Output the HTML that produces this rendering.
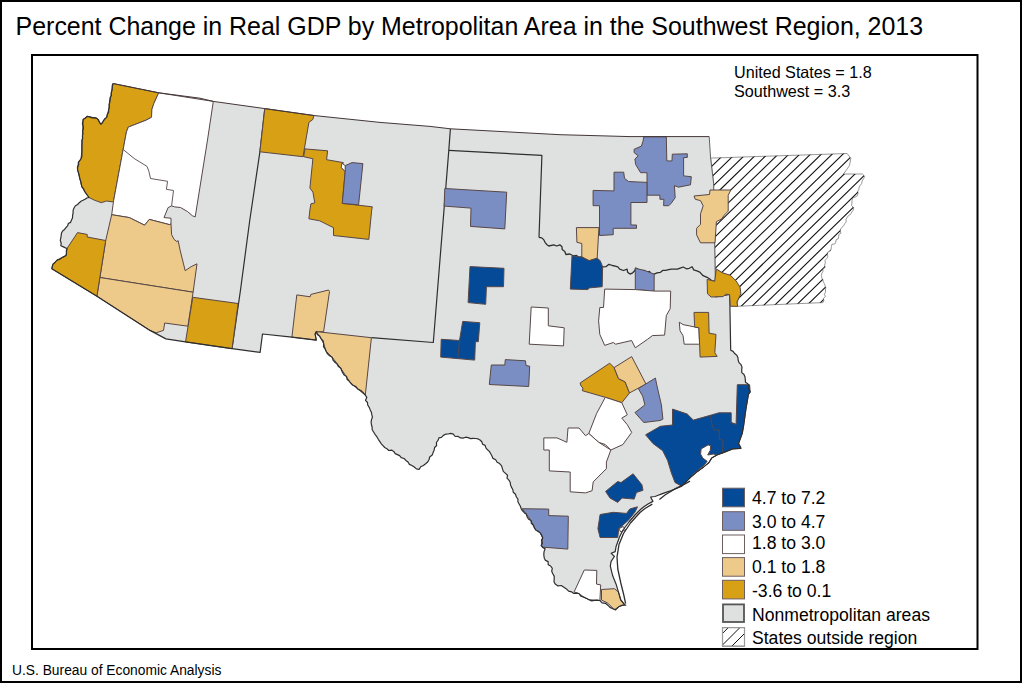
<!DOCTYPE html>
<html><head><meta charset="utf-8"><style>
html,body{margin:0;padding:0;background:#fff;}
body{width:1022px;height:683px;overflow:hidden;position:relative;}
svg{position:absolute;left:0;top:0;}
text{font-family:"Liberation Sans",sans-serif;fill:#000;}
</style></head><body>
<svg width="1022" height="683" viewBox="0 0 1022 683">
<rect x="1" y="1" width="1020" height="681" fill="#fff" stroke="#000" stroke-width="2"/>
<text transform="translate(15.6,35) scale(1,1.046)" font-size="24.95">Percent Change in Real GDP by Metropolitan Area in the Southwest Region, 2013</text>
<rect x="32" y="55" width="945.5" height="594" fill="#fff" stroke="#000" stroke-width="2"/>
<text transform="translate(734,77.6) scale(1,1.02)" font-size="16.15">United States = 1.8</text>
<text transform="translate(734,96.6) scale(1,1.02)" font-size="16.15">Southwest = 3.3</text>
<text x="12" y="675" font-size="13.8">U.S. Bureau of Economic Analysis</text>
<defs><clipPath id="arc"><polygon points="710.6,158.1 847.1,153.5 850.8,158.3 849.5,165.5 843.5,174.0 862.4,174.0 864.8,176.4 863.5,178.7 862.1,181.0 861.6,183.7 860.2,185.4 859.2,187.2 858.9,189.3 857.8,191.0 858.0,193.3 857.4,195.8 855.1,197.0 852.7,198.1 852.0,200.6 851.9,203.1 851.6,205.6 853.8,207.8 853.2,210.3 851.7,212.1 850.6,214.3 848.5,215.6 847.1,217.5 846.0,219.4 846.2,221.9 844.8,223.6 843.7,225.5 842.3,227.2 840.6,228.8 840.3,230.8 840.9,233.2 838.8,234.6 838.7,236.8 838.2,238.9 836.0,239.9 835.8,242.2 834.8,244.0 831.9,244.3 831.4,246.5 831.2,248.8 830.4,250.8 827.9,252.1 827.4,254.2 827.9,256.8 826.6,258.6 825.0,260.5 825.4,262.9 824.6,264.9 825.2,267.3 822.9,269.1 823.0,271.4 821.8,273.3 821.4,275.5 821.8,277.9 822.9,279.8 823.3,281.8 824.4,283.7 825.0,285.7 825.8,287.7 825.4,290.0 825.5,292.2 824.4,294.2 825.4,296.5 823.4,298.3 823.8,300.6 823.0,302.6 736.8,306.3 738.0,300.1 740.4,292.8 736.8,284.2 730.7,276.9 723.3,273.2 717.2,269.6 715.3,279.0 713.6,183.2"/></clipPath><clipPath id="lgc"><rect x="722.5" y="627.6" width="22" height="18.6"/></clipPath></defs><polygon points="710.6,158.1 847.1,153.5 850.8,158.3 849.5,165.5 843.5,174.0 862.4,174.0 864.8,176.4 863.5,178.7 862.1,181.0 861.6,183.7 860.2,185.4 859.2,187.2 858.9,189.3 857.8,191.0 858.0,193.3 857.4,195.8 855.1,197.0 852.7,198.1 852.0,200.6 851.9,203.1 851.6,205.6 853.8,207.8 853.2,210.3 851.7,212.1 850.6,214.3 848.5,215.6 847.1,217.5 846.0,219.4 846.2,221.9 844.8,223.6 843.7,225.5 842.3,227.2 840.6,228.8 840.3,230.8 840.9,233.2 838.8,234.6 838.7,236.8 838.2,238.9 836.0,239.9 835.8,242.2 834.8,244.0 831.9,244.3 831.4,246.5 831.2,248.8 830.4,250.8 827.9,252.1 827.4,254.2 827.9,256.8 826.6,258.6 825.0,260.5 825.4,262.9 824.6,264.9 825.2,267.3 822.9,269.1 823.0,271.4 821.8,273.3 821.4,275.5 821.8,277.9 822.9,279.8 823.3,281.8 824.4,283.7 825.0,285.7 825.8,287.7 825.4,290.0 825.5,292.2 824.4,294.2 825.4,296.5 823.4,298.3 823.8,300.6 823.0,302.6 736.8,306.3 738.0,300.1 740.4,292.8 736.8,284.2 730.7,276.9 723.3,273.2 717.2,269.6 715.3,279.0 713.6,183.2" fill="#fff" stroke="#8c8c8c" stroke-width="0.9"/><path d="M698.05,148 L530.11,312 M708.85,148 L540.91,312 M719.65,148 L551.71,312 M730.45,148 L562.51,312 M741.25,148 L573.31,312 M752.05,148 L584.11,312 M762.85,148 L594.91,312 M773.65,148 L605.71,312 M784.45,148 L616.51,312 M795.25,148 L627.31,312 M806.05,148 L638.11,312 M816.85,148 L648.91,312 M827.65,148 L659.71,312 M838.45,148 L670.51,312 M849.25,148 L681.31,312 M860.05,148 L692.11,312 M870.85,148 L702.91,312 M881.65,148 L713.71,312 M892.45,148 L724.51,312 M903.25,148 L735.31,312 M914.05,148 L746.11,312 M924.85,148 L756.91,312 M935.65,148 L767.71,312 M946.45,148 L778.51,312 M957.25,148 L789.31,312 M968.05,148 L800.11,312 M978.85,148 L810.91,312 M989.65,148 L821.71,312 M1000.45,148 L832.51,312 M1011.25,148 L843.31,312 M1022.05,148 L854.11,312 M1032.85,148 L864.91,312 M1043.65,148 L875.71,312" stroke="#111" stroke-width="1.1" clip-path="url(#arc)"/><polygon points="113.0,83.5 158.7,92.8 200.0,98.2 213.3,101.4 264.8,108.6 313.8,115.5 380.0,122.4 430.0,126.4 450.4,128.8 560.0,134.7 630.0,136.6 709.2,136.6 710.6,158.1 713.6,183.2 715.3,279.0 715.5,297.0 729.6,294.6 729.9,306.3 730.7,350.3 733.1,351.4 734.7,353.6 736.8,355.2 737.9,357.6 738.2,360.2 739.0,362.6 741.1,364.7 742.0,367.1 741.7,369.9 741.8,372.6 744.0,374.5 745.0,377.0 745.3,379.6 745.5,382.3 747.8,383.7 749.0,385.8 748.8,389.0 750.2,391.9 748.4,394.5 745.9,409.1 743.5,426.3 742.2,433.6 738.6,443.4 741.0,448.3 732.7,448.9 723.9,452.4 716.9,455.0 711.6,458.1 709.0,462.5 703.7,466.9 696.7,472.1 691.4,476.5 687.0,480.9 681.8,486.2 677.0,488.2 671.1,490.6 665.2,492.6 660.5,494.4 658.2,495.3 655.0,496.5 650.6,497.0 652.9,501.4 648.0,504.0 643.5,507.0 640.5,509.5 635.0,515.0 629.0,522.0 623.0,530.0 619.5,537.0 616.0,546.8 615.2,551.6 611.1,553.2 614.4,556.5 611.1,561.3 610.3,566.1 612.7,575.8 616.0,583.9 618.4,591.9 620.8,600.0 624.8,604.8 625.8,605.2 621.9,605.2 618.7,606.8 615.6,609.9 612.8,608.7 610.0,607.4 607.8,605.2 605.3,603.3 602.1,602.9 599.9,600.5 597.2,600.2 594.4,600.4 591.7,600.9 589.0,599.7 586.7,598.5 584.3,597.4 581.0,596.3 578.8,593.5 576.4,593.1 573.9,593.4 571.7,591.9 568.6,591.1 566.4,588.9 563.9,587.2 561.3,585.5 557.9,585.9 555.3,584.1 554.0,581.7 554.2,578.9 554.2,576.1 552.8,573.7 551.7,571.2 552.3,568.3 550.6,566.0 548.2,564.7 548.1,561.6 545.5,560.4 544.3,558.2 543.8,555.0 544.0,551.9 545.1,548.8 542.9,547.6 541.2,545.7 542.4,543.2 541.5,540.3 542.7,537.8 541.7,535.4 540.4,533.1 538.2,531.3 535.7,530.0 534.3,527.7 533.4,525.2 531.3,523.3 531.0,520.5 528.6,519.2 527.2,517.0 526.4,514.3 524.3,512.7 522.5,510.9 521.2,508.7 520.4,506.3 519.1,504.0 517.9,501.8 517.9,499.0 516.3,496.9 515.5,494.3 513.3,492.3 512.8,489.5 511.4,487.1 510.5,484.8 510.2,482.2 508.9,480.1 507.0,478.2 507.5,475.3 505.5,473.4 503.3,471.4 502.4,468.6 501.6,465.8 499.6,463.6 497.1,462.2 495.7,459.7 493.0,458.4 491.8,455.7 490.6,453.5 489.3,451.4 487.5,449.8 485.9,447.9 485.1,445.4 482.6,444.2 481.8,441.7 480.0,440.0 478.1,438.9 475.6,438.5 473.1,438.4 470.6,438.6 468.1,437.6 465.6,437.2 463.0,438.1 460.5,437.9 458.2,436.4 455.2,436.5 453.3,434.1 450.7,433.4 448.2,434.0 445.6,434.2 443.4,435.4 441.4,437.4 438.9,437.9 438.0,440.4 436.4,442.5 436.6,445.5 434.6,447.5 434.1,450.2 433.1,452.6 432.2,455.1 429.7,456.9 429.1,459.5 427.7,462.0 425.6,463.8 423.4,465.5 420.7,466.8 419.3,469.3 416.4,468.9 414.3,467.0 411.9,465.5 409.4,464.4 408.0,462.0 405.9,460.4 404.1,458.5 401.2,457.7 399.6,455.6 397.4,454.6 395.2,453.6 393.7,451.4 391.6,450.1 388.7,450.5 386.9,448.7 384.7,447.5 383.0,445.7 381.3,443.9 380.0,441.8 378.3,439.3 376.8,436.7 375.0,434.3 373.6,432.0 372.2,429.8 372.1,427.0 371.4,424.5 371.1,422.1 371.5,419.6 372.4,417.2 371.8,414.7 371.4,412.3 370.2,409.9 369.2,407.3 367.7,405.0 367.5,402.5 365.5,400.3 366.8,397.4 365.3,395.2 363.2,392.7 360.9,390.5 357.9,389.1 355.9,386.6 352.9,385.2 350.6,383.0 349.0,381.0 347.1,379.3 346.6,376.5 344.2,375.1 342.8,373.0 341.7,370.8 340.8,368.3 338.5,366.6 337.1,364.1 334.9,362.3 333.1,360.2 332.2,357.3 329.6,355.8 327.5,353.9 326.1,351.2 325.0,348.8 323.5,346.6 323.7,343.8 323.2,341.0 321.2,338.9 319.8,336.3 317.3,334.5 316.3,331.6 315.1,334.0 316.3,340.1 291.9,337.2 262.5,334.0 260.1,352.4 232.0,348.7 185.5,341.9 165.9,338.9 150.0,330.4 96.9,296.2 51.8,268.7 52.3,266.5 52.9,264.3 55.2,262.2 57.3,259.9 59.7,259.3 61.7,257.7 63.9,256.6 66.1,255.5 66.5,253.2 66.3,250.8 67.0,248.5 64.9,247.6 62.9,246.6 60.8,245.8 61.2,243.2 60.3,240.5 60.8,237.9 61.2,235.5 61.5,233.1 62.6,230.9 64.6,229.4 66.1,227.4 67.6,225.8 68.3,223.5 70.5,222.4 71.4,220.3 72.5,218.0 72.6,215.4 73.1,212.9 73.1,210.4 74.0,208.0 75.4,205.8 77.6,204.5 79.3,202.7 81.0,201.2 83.0,200.3 85.0,199.3 86.8,198.0 89.0,197.5 87.5,195.5 86.0,193.4 84.6,191.3 83.6,188.9 81.9,186.9 81.3,184.3 80.8,181.6 79.9,179.0 79.3,176.4 78.9,174.0 78.1,171.7 77.5,169.3 77.5,166.9 78.7,164.7 78.4,162.3 81.0,158.8 81.8,156.7 81.9,154.4 81.9,152.2 81.9,150.0 81.8,147.6 81.8,145.3 81.9,142.9 81.8,140.5 82.7,138.2 82.4,135.8 83.0,133.5 82.6,131.1 83.3,128.8 83.3,126.4 82.4,124.0 82.8,121.6 83.2,119.3 85.5,118.2 87.1,116.3 89.6,116.8 91.9,117.9 94.5,117.7 96.9,118.3 98.6,120.0 99.4,122.3 100.8,124.2 102.5,122.7 103.5,120.6 104.8,118.7 106.7,117.3 107.2,114.6 108.6,112.2 108.7,109.4 109.4,107.1 109.0,104.6 109.6,102.3 109.8,99.9 110.1,97.5 111.4,95.3 111.1,92.9 111.9,90.6 112.2,88.2 112.2,85.8 113.0,83.5" fill="#dfe0e0" stroke="none"/><polyline points="709.2,136.6 710.6,158.1 713.6,183.2 715.3,279.0" fill="none" stroke="#555" stroke-width="0.9" stroke-linejoin="round"/><polyline points="539.0,237.4 541.8,237.9 543.9,239.9 545.0,242.3 546.7,244.4 548.8,246.0 553.7,244.8 556.8,246.0 559.8,244.8 562.0,246.7 562.2,249.6 564.8,251.5 565.9,254.5 569.8,254.0 573.2,255.8 576.5,255.5 579.2,257.8 582.7,256.4 585.5,258.2 588.8,258.3 592.0,257.2 595.3,258.2 597.7,259.9 599.1,262.3 599.9,265.4 602.6,266.8 605.9,266.7 608.9,264.3 612.4,265.5 615.2,266.1 617.8,266.9 619.7,269.2 623.4,270.5 627.1,269.2 627.6,272.2 630.0,274.1 632.7,272.8 634.7,270.8 635.8,268.0 638.4,269.6 641.1,271.1 644.4,270.4 646.5,272.3 649.6,271.5 651.3,274.3 654.2,274.1 657.0,272.8 660.2,272.4 662.7,270.4 665.7,270.4 668.6,269.7 671.5,269.2 674.4,269.2 677.4,269.2 680.2,268.1 683.1,267.0 686.4,268.8 689.3,268.3 692.1,266.8 693.7,269.9 696.9,270.9 699.8,272.1 703.1,275.7 707.1,277.3 709.5,278.8 711.8,280.7 714.7,281.3" fill="none" stroke="#2e2e2e" stroke-width="1.3" stroke-linejoin="round"/><polyline points="715.3,279.0 715.5,297.0 729.6,294.6 729.9,306.3" fill="none" stroke="#2e2e2e" stroke-width="1.0" stroke-linejoin="round"/><polyline points="264.8,108.6 259.9,151.8 249.8,220 240.5,290 232,348.7" fill="none" stroke="#2e2e2e" stroke-width="1.2" stroke-linejoin="round"/><polyline points="450.4,128.8 448.8,150.4 433.3,342.5 371.4,337.7" fill="none" stroke="#2e2e2e" stroke-width="1.2" stroke-linejoin="round"/><polyline points="448.8,150.4 541.9,155.4 539,237.4" fill="none" stroke="#2e2e2e" stroke-width="1.2" stroke-linejoin="round"/><polygon points="113,83.5 158.7,92.8 153.8,103.6 151.9,109.4 151.5,117.3 146,120.2 128.3,127.1 126.4,132 113.6,200.7 112.7,201.9 106.5,201 101.3,202.7 94.2,200.1 89,197.5 84.6,191.3 81.9,186.9 79.3,176.4 77.5,169.3 78.4,162.3 81,158.8 81.9,150 83.2,119.3 87.1,116.3 96.9,118.3 100.8,124.2 106.7,117.3 108.7,109.4" fill="#d8a014" stroke="#574747" stroke-width="1.0" stroke-linejoin="round"/><polygon points="158.7,92.8 213.3,101.4 207.5,140 195.2,216.9 192.3,215.7 187.6,211.6 180.5,207.5 174.7,206.9 171.6,205.9 168.1,207.6 164,217.6 171,218.2 171,224 169.3,224.6 149.3,219.4 144.6,225.2 129.4,217.6 111.7,214.7 113.6,200.7 126.4,132 128.3,127.1 146,120.2 151.5,117.3 151.9,109.4 153.8,103.6" fill="#ffffff" stroke="#574747" stroke-width="1.0" stroke-linejoin="round"/><polygon points="111.7,214.7 129.4,217.6 144.6,225.2 149.3,219.4 169.3,224.6 171,224 171.6,234.6 174,239.3 176.9,241.7 178.1,240.5 180.3,251 185.2,270.7 191.1,266.7 197,263.8 193.1,292.2 99.9,277.5 105.7,240.5" fill="#edca8a" stroke="#574747" stroke-width="1.0" stroke-linejoin="round"/><polygon points="99.9,277.5 193.1,292.2 187.9,326.2 164.7,323 163.5,330.4 156.1,332.8 150,330.4 96.9,296.2" fill="#edca8a" stroke="#574747" stroke-width="1.0" stroke-linejoin="round"/><polygon points="67,248.5 77.5,232.6 87.2,234.4 87.2,237 105.7,240.5 96.9,296.2 51.8,268.7 52.9,264.3 57.3,259.9 66.1,255.5" fill="#d8a014" stroke="#574747" stroke-width="1.0" stroke-linejoin="round"/><polygon points="192.8,297.3 238.1,303.5 232,348.7 185.5,341.9" fill="#d8a014" stroke="#574747" stroke-width="1.0" stroke-linejoin="round"/><polygon points="264.8,108.6 313.8,115.5 312.9,119.4 308.9,122.4 303,156.7 259.9,151.8" fill="#d8a014" stroke="#574747" stroke-width="1.0" stroke-linejoin="round"/><polygon points="305,148.9 327.6,150.8 326.6,159.7 343.3,162.6 341.3,167.5 345.2,171.5 342.3,203.4 372.3,206.8 371.7,210 368.8,239.4 333.5,235.5 333.5,227.7 319.7,220.8 308.9,218.8 309.9,210 310.9,203.8 314.8,202.9 312.9,192.1 309.9,188.1 312.9,158.7 303.6,156.7" fill="#d8a014" stroke="#574747" stroke-width="1.0" stroke-linejoin="round"/><polygon points="345.2,165.6 352.1,162.6 362.9,163.6 358.6,204.8 342.3,203.4 345.2,171.5" fill="#7b8ec3" stroke="#574747" stroke-width="1.0" stroke-linejoin="round"/><polygon points="341.8,163.2 345.2,165.6 345.2,171.5 341.3,167.5" fill="#ffffff" stroke="#574747" stroke-width="1.0" stroke-linejoin="round"/><polygon points="296.8,294.9 310.2,296.8 310.9,294.4 328.6,290 329.5,291.5 323.6,331.7 316.3,331.6 315.1,334 316.3,340.1 291.9,337.2" fill="#edca8a" stroke="#574747" stroke-width="1.0" stroke-linejoin="round"/><polygon points="316.3,331.6 371.4,337.7 365.3,395.2 357.9,389.1 350.6,383 340.8,368.3 332.2,357.3 326.1,351.2 323.7,343.8 321.2,338.9" fill="#edca8a" stroke="#574747" stroke-width="1.0" stroke-linejoin="round"/><polygon points="444.8,188.5 506.7,192.2 504.8,228.9 470.5,226.4 471,208.1 444.1,206.1" fill="#7b8ec3" stroke="#574747" stroke-width="1.0" stroke-linejoin="round"/><polygon points="470,266.6 504,268.3 503.5,286.7 486.4,286.7 485.7,304.3 468.1,302.6" fill="#044a96" stroke="#574747" stroke-width="1.0" stroke-linejoin="round"/><polygon points="462.7,321.4 479.8,322.7 478.3,341.7 475.4,341.7 474.7,360.1 440.7,357.1 441.2,339.3 459.5,340.5" fill="#044a96" stroke="#574747" stroke-width="1.0" stroke-linejoin="round"/><polygon points="491.3,365 504.8,365 505.3,359.6 525.5,360.8 526,365.5 529.7,366.2 528.7,386.5 489.3,384.5" fill="#7b8ec3" stroke="#574747" stroke-width="1.0" stroke-linejoin="round"/><polygon points="531.2,307 548.3,308 548.3,325.8 564.2,327.8 563.5,345.9 529.2,344.2" fill="#ffffff" stroke="#574747" stroke-width="1.0" stroke-linejoin="round"/><polygon points="643.8,136.8 666.3,136.8 666.8,160.9 672,160.9 672.3,154.2 687.3,153.8 687.3,157.4 683.6,157.7 683.6,175.9 691.3,176.7 690.5,184.8 678.4,187.2 674.4,185.6 675.2,197.7 671.2,203.3 668.8,205.7 663.6,205.7 663.9,199.3 659.9,199.3 659.9,195.2 647,195.2 647,172.7 640.6,172.7 638.2,168.7 635.7,164.6 634.9,159 638.2,155.8 634.1,152.6 634.1,149.3 641.4,146.1 643,141.3" fill="#7b8ec3" stroke="#574747" stroke-width="1.0" stroke-linejoin="round"/><polygon points="614,172.2 623.7,172.2 624.5,178.3 628.5,181.5 647,182.4 647,202.5 630.9,202.5 630.9,225 636.5,225 636.5,228.3 613.2,228.3 613.2,234.7 599.5,235.5 599.5,205.7 593.1,205.7 593.1,190.4 614,190.9" fill="#7b8ec3" stroke="#574747" stroke-width="1.0" stroke-linejoin="round"/><polygon points="576.4,227.6 598.9,227.6 597.2,258.2 589.2,260.7 581.8,257 581.8,243.5 576.9,242.3" fill="#edca8a" stroke="#574747" stroke-width="1.0" stroke-linejoin="round"/><polygon points="572,255.8 581.8,257 589.2,260.7 597.2,258.2 600.2,260.7 602.6,266.8 602.2,286.7 589.2,287.9 587.9,289.6 570.3,289.1" fill="#044a96" stroke="#574747" stroke-width="1.0" stroke-linejoin="round"/><polygon points="694,196 709.5,194.5 710,190 730.8,190 728.2,195.3 728.2,211.1 724.3,215.1 721.6,219 716.4,221.7 715,242.8 700.5,242.8 696.6,234.9 696.6,228.3 700.5,224.3 700.5,213.8 703.2,205.9 700.5,200.6 695.3,199.3" fill="#edca8a" stroke="#574747" stroke-width="1.0" stroke-linejoin="round"/><polygon points="635.3,268.3 644.4,270.4 654.2,274.1 654.1,291.1 635.3,289.6" fill="#7b8ec3" stroke="#574747" stroke-width="1.0" stroke-linejoin="round"/><polygon points="604.7,289.1 635.3,289.6 654.8,291.1 670.7,291.1 670.2,308.7 666.3,315.6 664.6,335.1 652.4,335.6 647.5,339.3 635.3,347.8 631.6,340.5 615.7,344.2 613.2,342.5 604.7,345.4 599.8,334.4 598.6,320.9 599.8,307.5 603.5,307.5" fill="#ffffff" stroke="#574747" stroke-width="1.0" stroke-linejoin="round"/><polygon points="707.1,279.3 714.7,281.3 716.3,268.9 721.6,272.5 730.4,275.3 736.1,280.9 740.1,287.4 740.9,293.8 736.9,301.9 737.7,306.3 730.4,306.3 729.6,294.6 725.6,294.2 723.2,296.6 711.1,297 707.5,293.8" fill="#d8a014" stroke="#574747" stroke-width="1.0" stroke-linejoin="round"/><polygon points="679.3,322.2 683,324.6 698.9,327.8 699.6,344.2 684.2,344.2 683,335.6 680,330.7" fill="#ffffff" stroke="#574747" stroke-width="1.0" stroke-linejoin="round"/><polygon points="694,312.4 708.6,312.4 709.1,333.2 716,334.4 714.8,352.7 717.2,356.4 700.1,357.1 699.6,344.2 698.9,327.8 694.7,327.1" fill="#d8a014" stroke="#574747" stroke-width="1.0" stroke-linejoin="round"/><polygon points="580.1,383 609.7,363.2 614.1,367.6 618.5,378.6 625.1,381.9 629.5,392.9 621.8,402.7 605.3,397.3 582.3,390.7 583,388 581,386" fill="#d8a014" stroke="#574747" stroke-width="1.0" stroke-linejoin="round"/><polygon points="614.1,367.6 631.7,356.6 646,384.1 629.5,392.9 625.1,381.9 618.5,378.6" fill="#edca8a" stroke="#574747" stroke-width="1.0" stroke-linejoin="round"/><polygon points="638.3,388.5 655.4,378.1 657,386 661.4,404.9 662.9,419.2 660,420.5 643.8,422.5 635,412.6 644.9,404.9 642.7,396.2" fill="#7b8ec3" stroke="#574747" stroke-width="1.0" stroke-linejoin="round"/><polygon points="605.3,397.3 621.8,402.7 627.3,414.8 621.8,418.1 627.3,424.7 631.7,432.4 622.9,444.5 610.8,450 605.3,444.5 598.7,442.3 588.8,433.5 596.5,413.7" fill="#ffffff" stroke="#574747" stroke-width="1.0" stroke-linejoin="round"/><polygon points="543.8,437.9 557,437.9 566.9,442.3 568,428 579,428 585.5,435.7 588.8,433.5 598.7,442.3 610.8,450 606.4,462.1 606.4,468.7 593.2,481.9 592.1,490.7 585.5,492.9 570.2,491.8 570.2,472 549.3,470.9 549.3,450 543.8,450" fill="#ffffff" stroke="#574747" stroke-width="1.0" stroke-linejoin="round"/><polygon points="645.6,434.8 660.3,426.3 672.5,425 672.5,409.1 687.2,414 693.3,420.1 710.4,415.3 719,412.8 731.2,412.8 731.2,422.6 736.1,424.3 737.3,384.7 749.6,384.7 750.2,391.9 748.4,394.5 745.9,409.1 743.5,426.3 742.2,433.6 738.6,443.4 741,448.3 732.7,448.9 723.9,452.4 716.9,455 711.6,458.1 709,462.5 703.7,466.9 696.7,472.1 691.4,476.5 687,480.9 681.8,486.2 675,482.5 671.3,472.7 667.6,460.5 662.7,450.7 652.9,443.4" fill="#044a96" stroke="#574747" stroke-width="1.0" stroke-linejoin="round"/><polygon points="605.6,491.4 617.7,481.5 621,482.6 633.1,473.8 641.9,484.8 643,490.3 636.4,492.5 634.2,499.1 622.1,498 617.7,502.4 610,498" fill="#044a96" stroke="#574747" stroke-width="1.0" stroke-linejoin="round"/><polygon points="600.1,514.5 613.3,512.3 626.5,513.4 629.8,509 637.5,506.8 635,512 628.7,519.9 623,525 618.8,528.7 617.7,537.5 600.1,537.5 597.9,528.7" fill="#044a96" stroke="#574747" stroke-width="1.0" stroke-linejoin="round"/><polygon points="618.8,528.7 623.2,526.5 625.4,529.8 621,532" fill="#ffffff" stroke="#574747" stroke-width="1.0" stroke-linejoin="round"/><polygon points="522.2,508.7 548.7,509.1 548.7,515.6 568.3,516.2 567.8,549.1 543.5,547.2 541.2,545.7 542.7,537.8 540.4,533.1 535.7,530 531,520.5" fill="#7b8ec3" stroke="#574747" stroke-width="1.0" stroke-linejoin="round"/><polygon points="584.3,570 596.8,570.4 596.5,584.1 600.7,584.9 599.9,600.5 589,599.7 584.3,597.4 578.8,593.5 574.1,591.9" fill="#ffffff" stroke="#574747" stroke-width="1.0" stroke-linejoin="round"/><polygon points="601.5,589.5 614.4,588.7 618.4,591.9 620.8,600 624.8,604.8 619.2,606.5 614.4,609.7 607.9,603.2 601.5,600" fill="#edca8a" stroke="#574747" stroke-width="1.0" stroke-linejoin="round"/><polygon points="701.1,448.9 708.1,444.9 710.7,445.8 710.3,450.2 707.7,455 713.4,454.1 716.9,455 711.6,458.1 709,462.5 703.7,466.9 696.7,472.1 691.4,476.5 692.8,474.6 698.2,469.9 704,465.2 707.2,461.3 702.8,458.1 700.6,454.1" fill="#ffffff" stroke="#574747" stroke-width="1.0" stroke-linejoin="round"/><polyline points="123.4,149.7 134.2,158.5 147,166.4 148.9,171.3 150.5,178.5 167.6,181.3 166.4,189.3 173.5,190.5 171.6,205.9" fill="none" stroke="#574747" stroke-width="0.9" stroke-linejoin="round"/><polyline points="459.5,340.5 457.8,358.4" fill="none" stroke="#574747" stroke-width="0.9" stroke-linejoin="round"/><polyline points="710.4,415.3 712,425 714.2,430 719.1,430 719.5,439.2 723,440.5 722.6,453.7" fill="none" stroke="#574747" stroke-width="0.9" stroke-linejoin="round"/><polyline points="731.2,422.6 736.1,424.3" fill="none" stroke="#574747" stroke-width="0.9" stroke-linejoin="round"/><polyline points="729.9,306.3 730.7,350.3 733.1,351.4 734.7,353.6 736.8,355.2 737.9,357.6 738.2,360.2 739.0,362.6 741.1,364.7 742.0,367.1 741.7,369.9 741.8,372.6 744.0,374.5 745.0,377.0 745.3,379.6 745.5,382.3 747.8,383.7 749.0,385.8 748.8,389.0 750.2,391.9 748.4,394.5 745.9,409.1 743.5,426.3 742.2,433.6 738.6,443.4 741.0,448.3 732.7,448.9 723.9,452.4 716.9,455.0 711.6,458.1 709.0,462.5 703.7,466.9 696.7,472.1 691.4,476.5 687.0,480.9 681.8,486.2 677.0,488.2 671.1,490.6 665.2,492.6 660.5,494.4 658.2,495.3 655.0,496.5 650.6,497.0 652.9,501.4 648.0,504.0 643.5,507.0 640.5,509.5 635.0,515.0 629.0,522.0 623.0,530.0 619.5,537.0 616.0,546.8 615.2,551.6 611.1,553.2 614.4,556.5 611.1,561.3 610.3,566.1 612.7,575.8 616.0,583.9 618.4,591.9 620.8,600.0 624.8,604.8 625.8,605.2 621.9,605.2 618.7,606.8 615.6,609.9 612.8,608.7 610.0,607.4 607.8,605.2 605.3,603.3 602.1,602.9 599.9,600.5 597.2,600.2 594.4,600.4 591.7,600.9 589.0,599.7 586.7,598.5 584.3,597.4 581.0,596.3 578.8,593.5 576.4,593.1 573.9,593.4 571.7,591.9 568.6,591.1 566.4,588.9 563.9,587.2 561.3,585.5 557.9,585.9 555.3,584.1 554.0,581.7 554.2,578.9 554.2,576.1 552.8,573.7 551.7,571.2 552.3,568.3 550.6,566.0 548.2,564.7 548.1,561.6 545.5,560.4 544.3,558.2 543.8,555.0 544.0,551.9 545.1,548.8 542.9,547.6 541.2,545.7 542.4,543.2 541.5,540.3 542.7,537.8 541.7,535.4 540.4,533.1 538.2,531.3 535.7,530.0 534.3,527.7 533.4,525.2 531.3,523.3 531.0,520.5 528.6,519.2 527.2,517.0 526.4,514.3 524.3,512.7 522.5,510.9 521.2,508.7 520.4,506.3 519.1,504.0 517.9,501.8 517.9,499.0 516.3,496.9 515.5,494.3 513.3,492.3 512.8,489.5 511.4,487.1 510.5,484.8 510.2,482.2 508.9,480.1 507.0,478.2 507.5,475.3 505.5,473.4 503.3,471.4 502.4,468.6 501.6,465.8 499.6,463.6 497.1,462.2 495.7,459.7 493.0,458.4 491.8,455.7 490.6,453.5 489.3,451.4 487.5,449.8 485.9,447.9 485.1,445.4 482.6,444.2 481.8,441.7 480.0,440.0 478.1,438.9 475.6,438.5 473.1,438.4 470.6,438.6 468.1,437.6 465.6,437.2 463.0,438.1 460.5,437.9 458.2,436.4 455.2,436.5 453.3,434.1 450.7,433.4 448.2,434.0 445.6,434.2 443.4,435.4 441.4,437.4 438.9,437.9 438.0,440.4 436.4,442.5 436.6,445.5 434.6,447.5 434.1,450.2 433.1,452.6 432.2,455.1 429.7,456.9 429.1,459.5 427.7,462.0 425.6,463.8 423.4,465.5 420.7,466.8 419.3,469.3 416.4,468.9 414.3,467.0 411.9,465.5 409.4,464.4 408.0,462.0 405.9,460.4 404.1,458.5 401.2,457.7 399.6,455.6 397.4,454.6 395.2,453.6 393.7,451.4 391.6,450.1 388.7,450.5 386.9,448.7 384.7,447.5 383.0,445.7 381.3,443.9 380.0,441.8 378.3,439.3 376.8,436.7 375.0,434.3 373.6,432.0 372.2,429.8 372.1,427.0 371.4,424.5 371.1,422.1 371.5,419.6 372.4,417.2 371.8,414.7 371.4,412.3 370.2,409.9 369.2,407.3 367.7,405.0 367.5,402.5 365.5,400.3 366.8,397.4 365.3,395.2 363.2,392.7 360.9,390.5 357.9,389.1 355.9,386.6 352.9,385.2 350.6,383.0 349.0,381.0 347.1,379.3 346.6,376.5 344.2,375.1 342.8,373.0 341.7,370.8 340.8,368.3 338.5,366.6 337.1,364.1 334.9,362.3 333.1,360.2 332.2,357.3 329.6,355.8 327.5,353.9 326.1,351.2 325.0,348.8 323.5,346.6 323.7,343.8 323.2,341.0 321.2,338.9 319.8,336.3 317.3,334.5 316.3,331.6 315.1,334.0 316.3,340.1 291.9,337.2 262.5,334.0 260.1,352.4 232.0,348.7 185.5,341.9 165.9,338.9 150.0,330.4 96.9,296.2 51.8,268.7 52.3,266.5 52.9,264.3 55.2,262.2 57.3,259.9 59.7,259.3 61.7,257.7 63.9,256.6 66.1,255.5 66.5,253.2 66.3,250.8 67.0,248.5 64.9,247.6 62.9,246.6 60.8,245.8 61.2,243.2 60.3,240.5 60.8,237.9 61.2,235.5 61.5,233.1 62.6,230.9 64.6,229.4 66.1,227.4 67.6,225.8 68.3,223.5 70.5,222.4 71.4,220.3 72.5,218.0 72.6,215.4 73.1,212.9 73.1,210.4 74.0,208.0 75.4,205.8 77.6,204.5 79.3,202.7 81.0,201.2 83.0,200.3 85.0,199.3 86.8,198.0 89.0,197.5 87.5,195.5 86.0,193.4 84.6,191.3 83.6,188.9 81.9,186.9 81.3,184.3 80.8,181.6 79.9,179.0 79.3,176.4 78.9,174.0 78.1,171.7 77.5,169.3 77.5,166.9 78.7,164.7 78.4,162.3 81.0,158.8 81.8,156.7 81.9,154.4 81.9,152.2 81.9,150.0 81.8,147.6 81.8,145.3 81.9,142.9 81.8,140.5 82.7,138.2 82.4,135.8 83.0,133.5 82.6,131.1 83.3,128.8 83.3,126.4 82.4,124.0 82.8,121.6 83.2,119.3 85.5,118.2 87.1,116.3 89.6,116.8 91.9,117.9 94.5,117.7 96.9,118.3 98.6,120.0 99.4,122.3 100.8,124.2 102.5,122.7 103.5,120.6 104.8,118.7 106.7,117.3 107.2,114.6 108.6,112.2 108.7,109.4 109.4,107.1 109.0,104.6 109.6,102.3 109.8,99.9 110.1,97.5 111.4,95.3 111.1,92.9 111.9,90.6 112.2,88.2 112.2,85.8 113.0,83.5" fill="none" stroke="#2e2e2e" stroke-width="1.2" stroke-linejoin="round"/><polyline points="113.0,83.5 158.7,92.8 200.0,98.2 213.3,101.4 264.8,108.6 313.8,115.5 380.0,122.4 430.0,126.4 450.4,128.8 560.0,134.7 630.0,136.6 709.2,136.6" fill="none" stroke="#433636" stroke-width="1.0" stroke-linejoin="round"/><polyline points="690.0,481.2 683.1,484.8 674.4,489.2 665.0,495.0 659.4,499.4" fill="none" stroke="#2e2e2e" stroke-width="1.3" stroke-linejoin="round"/><polyline points="652.3,504.1 645.0,508.5 640.0,512.5 630.5,523.0 623.5,533.5 619.0,544.5 617.0,557.0 617.8,569.0 620.8,583.0 623.8,595.0 625.6,603.6" fill="none" stroke="#2e2e2e" stroke-width="1.3" stroke-linejoin="round"/><rect x="722.5" y="488.2" width="22" height="18.6" fill="#044a96" stroke="#6e5e5e" stroke-width="1"/><text transform="translate(752,504.1) scale(1,1.03)" font-size="17.6">4.7 to 7.2</text><rect x="722.5" y="511.7" width="22" height="18.6" fill="#7b8ec3" stroke="#6e5e5e" stroke-width="1"/><text transform="translate(752,527.6) scale(1,1.03)" font-size="17.6">3.0 to 4.7</text><rect x="722.5" y="535" width="22" height="18.6" fill="#ffffff" stroke="#6e5e5e" stroke-width="1"/><text transform="translate(752,548.9) scale(1,1.03)" font-size="17.6">1.8 to 3.0</text><rect x="722.5" y="557.6" width="22" height="18.6" fill="#edca8a" stroke="#6e5e5e" stroke-width="1"/><text transform="translate(752,572.7) scale(1,1.03)" font-size="17.6">0.1 to 1.8</text><rect x="722.5" y="580.3" width="22" height="18.6" fill="#d8a014" stroke="#6e5e5e" stroke-width="1"/><text transform="translate(752,596.5) scale(1,1.03)" font-size="17.6">-3.6 to 0.1</text><rect x="723" y="604.4" width="21" height="17.6" fill="#dfe0e0" stroke="#555" stroke-width="1.8"/><text transform="translate(752,620.8) scale(1,1.03)" font-size="17.6">Nonmetropolitan areas</text><rect x="722.5" y="627.6" width="22" height="18.6" fill="#fff" stroke="#999" stroke-width="1.1"/><path d="M721.9,634 L729.3,626.6 M721.9,645.6 L740.6,626.9 M731.5,646.5 L745,633" stroke="#111" stroke-width="1" clip-path="url(#lgc)"/><rect x="722.5" y="627.6" width="22" height="18.6" fill="none" stroke="#999" stroke-width="1.1"/><text transform="translate(752,644.3) scale(1,1.03)" font-size="17.6">States outside region</text>
</svg>
</body></html>
